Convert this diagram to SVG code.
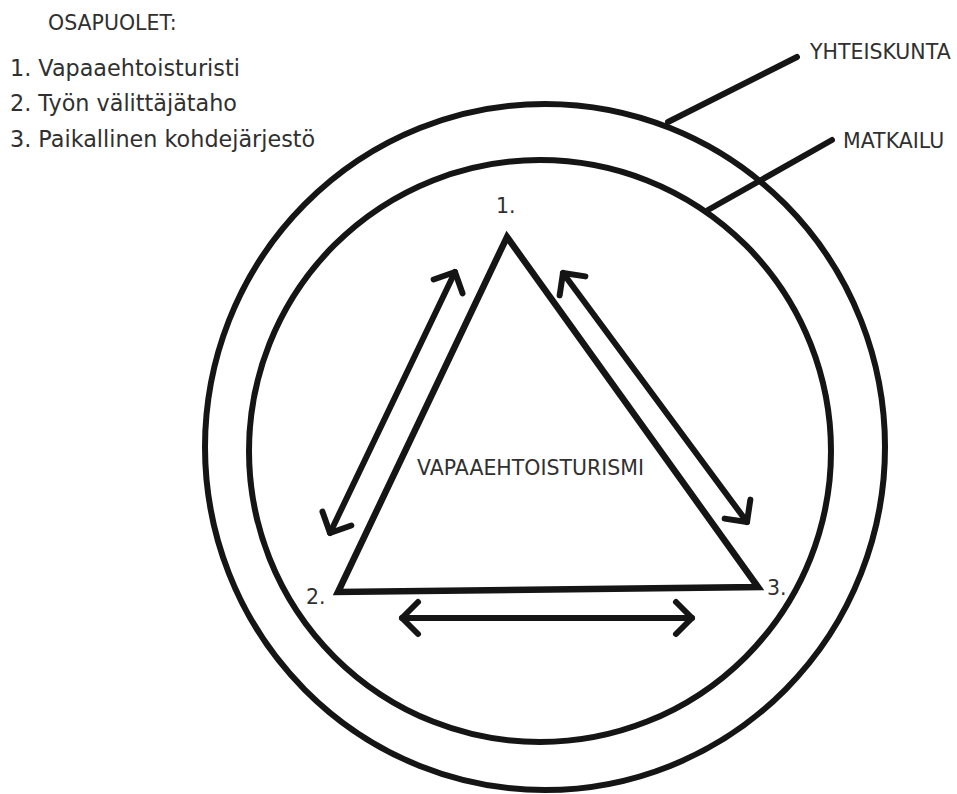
<svg xmlns="http://www.w3.org/2000/svg" width="957" height="794" viewBox="0 0 957 794">
<style>
.ln{fill:none;stroke:#151515;stroke-width:6;stroke-linecap:round;stroke-linejoin:round}
.tri{fill:none;stroke:#151515;stroke-width:6.5;stroke-linejoin:miter}
.t{font-family:"DejaVu Sans",sans-serif;fill:#303030}
.cap{font-size:20.5px}
.lst{font-size:22.3px}
</style>
<defs>
<marker id="chev" markerUnits="userSpaceOnUse" viewBox="-20 -20 30 40" markerWidth="30" markerHeight="40" refX="0" refY="0" orient="auto-start-reverse" overflow="visible">
<path d="M-16,-16 L0,0 L-16,16" fill="none" stroke="#151515" stroke-width="6" stroke-linecap="round" stroke-linejoin="round"/>
</marker>
</defs>
<rect width="957" height="794" fill="#fff"/>
<g id="legend">
<text class="t cap" x="48" y="30">OSAPUOLET:</text>
<text class="t lst" x="10" y="76">1. Vapaaehtoisturisti</text>
<text class="t lst" x="10" y="111">2. Työn välittäjätaho</text>
<text class="t lst" x="10" y="147">3. Paikallinen kohdejärjestö</text>
</g>
<g id="yhteiskunta">
<ellipse class="ln" cx="545" cy="447" rx="340" ry="343"/>
<text class="t cap" x="810" y="59">YHTEISKUNTA</text>
</g>
<g id="matkailu">
<circle class="ln" cx="540" cy="451" r="291"/>
<text class="t cap" x="843" y="148">MATKAILU</text>
</g>
<g id="vapaaehtoisturismi">
<polygon class="tri" points="507,237 758,587 338,592"/>
<text class="t cap" x="417" y="475">VAPAAEHTOISTURISMI</text>
</g>
<g id="p1"><text class="t cap" x="496" y="213">1.</text></g>
<g id="p2"><text class="t cap" x="306" y="604">2.</text></g>
<g id="p3"><text class="t cap" x="767" y="595">3.</text></g>
<g id="connectors">
<line class="ln" x1="668" y1="122" x2="797" y2="57"/>
<line class="ln" x1="708" y1="210" x2="832" y2="140"/>
<line class="ln" x1="330" y1="533" x2="455" y2="272" marker-start="url(#chev)" marker-end="url(#chev)"/>
<line class="ln" x1="563" y1="273" x2="747" y2="522" marker-start="url(#chev)" marker-end="url(#chev)"/>
<line class="ln" x1="402" y1="618" x2="692" y2="618" marker-start="url(#chev)" marker-end="url(#chev)"/>
</g>
</svg>
